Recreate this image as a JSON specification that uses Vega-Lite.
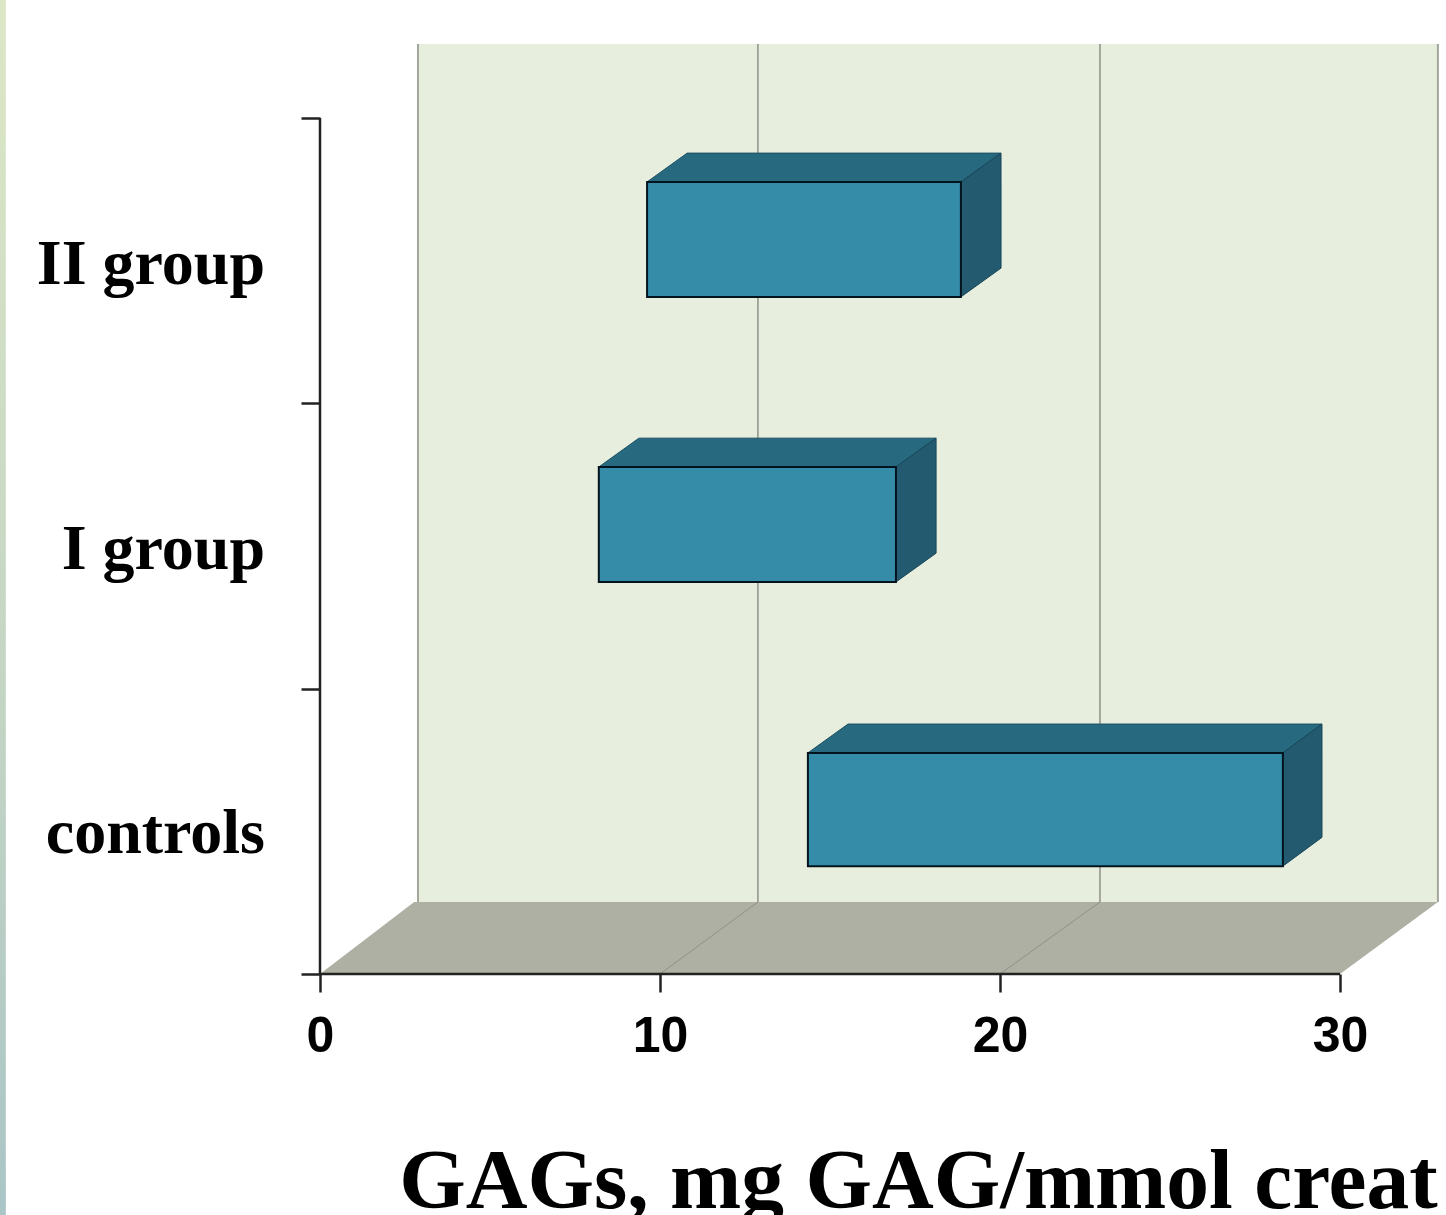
{
"$schema":"https://vega.github.io/schema/vega-lite/v6.json",
"width":1446,"height":1215,"padding":0,"autosize":{"type":"none"},"background":"#ffffff",
"config":{"view":{"stroke":null}},
"datasets":{
"bars":[
{"group":"II group","start":9.62,"end":18.85,"low":2.373,"high":2.776,"labelY":2.418},
{"group":"I group","start":8.2,"end":16.94,"low":1.374,"high":1.777,"labelY":1.419},
{"group":"controls","start":14.35,"end":28.32,"low":0.378,"high":0.775,"labelY":0.424}],
"tops":[
{"k":"II","x":9.62,"y":2.776,"y2":2.776},{"k":"II","x":10.8,"y":2.776,"y2":2.877},{"k":"II","x":18.85,"y":2.776,"y2":2.877},{"k":"II","x":20.03,"y":2.877,"y2":2.877},
{"k":"I","x":8.2,"y":1.777,"y2":1.777},{"k":"I","x":9.38,"y":1.777,"y2":1.878},{"k":"I","x":16.94,"y":1.777,"y2":1.878},{"k":"I","x":18.12,"y":1.878,"y2":1.878},
{"k":"c","x":14.35,"y":0.775,"y2":0.775},{"k":"c","x":15.53,"y":0.775,"y2":0.876},{"k":"c","x":28.32,"y":0.775,"y2":0.876},{"k":"c","x":29.47,"y":0.876,"y2":0.876}],
"sides":[
{"k":"II","x":18.85,"y":2.373,"y2":2.776},{"k":"II","x":20.03,"y":2.474,"y2":2.877},
{"k":"I","x":16.94,"y":1.374,"y2":1.777},{"k":"I","x":18.12,"y":1.475,"y2":1.878},
{"k":"c","x":28.32,"y":0.378,"y2":0.775},{"k":"c","x":29.47,"y":0.479,"y2":0.876}],
"floor":[
{"x":0,"y":0,"y2":0},{"x":2.77,"y":0,"y2":0.2523},{"x":30,"y":0,"y2":0.2523},{"x":32.88,"y":0.2523,"y2":0.2523}],
"grid":[{"x":12.88},{"x":22.94}],
"floorGrid":[{"k":"a","x":10,"y":0},{"k":"a","x":12.88,"y":0.2523},{"k":"b","x":20,"y":0},{"k":"b","x":22.94,"y":0.2523}],
"edges":[{"x":2.882},{"x":32.88}],
"axisH":[{"x":0,"x2":30,"y":0}],
"axisV":[{"x":0,"y":0,"y2":3}],
"strip":[{"x":-9.42,"x2":-9.24,"y":-0.85,"y2":3.42}],
"wall":[{"x":2.882,"x2":32.88,"y":0.2523,"y2":3.2594}]
},
"encoding":{},
"layer":[
{"data":{"name":"strip"},
 "mark":{"type":"rect","fill":{"gradient":"linear","x1":0,"y1":0,"x2":0,"y2":1,"stops":[{"offset":0,"color":"#dde7c6"},{"offset":0.6,"color":"#c2d4c4"},{"offset":1,"color":"#aac5c6"}]}},
 "encoding":{
  "x":{"field":"x","type":"quantitative","scale":{"domain":[-9.4118,33.1176],"nice":false,"zero":false},
   "axis":{"values":[0,10,20,30],"offset":-241,"domain":false,"grid":false,"ticks":true,"tickSize":18,"tickWidth":2.5,"tickColor":"#222222","format":"d","labelFont":"Liberation Sans","labelFontWeight":"bold","labelFontSize":50,"labelColor":"#000000","labelPadding":19,"labelFlush":false,"labelOverlap":false,"zindex":1,
    "title":"GAGs, mg GAG/mmol creat","titleFont":"Liberation Serif","titleFontWeight":"bold","titleFontSize":85.5,"titleColor":"#000000","titleX":918,"titleY":233,"titleAlign":"center","titleBaseline":"alphabetic"}},
  "x2":{"field":"x2"},
  "y":{"field":"y","type":"quantitative","scale":{"domain":[-0.8446,3.4136],"nice":false,"zero":false},
   "axis":{"values":[0,1,2,3],"offset":-320,"domain":false,"grid":false,"tickSize":19,"tickWidth":2.5,"tickColor":"#222222","labels":false,"title":null,"zindex":1}},
  "y2":{"field":"y2"}}},
{"data":{"name":"wall"},"mark":{"type":"rect","fill":"#e8eedd"},
 "encoding":{"x":{"field":"x","type":"quantitative"},"x2":{"field":"x2"},"y":{"field":"y","type":"quantitative"},"y2":{"field":"y2"}}},
{"data":{"name":"edges"},"mark":{"type":"rule","stroke":"#a3a69b","strokeWidth":2},
 "encoding":{"x":{"field":"x","type":"quantitative"},"y":{"datum":0.2523},"y2":{"datum":3.2594}}},
{"data":{"name":"grid"},"mark":{"type":"rule","stroke":"#8f9188","strokeWidth":1.5},
 "encoding":{"x":{"field":"x","type":"quantitative"},"y":{"datum":0.2523},"y2":{"datum":3.2594}}},
{"data":{"name":"floor"},"mark":{"type":"area","fill":"#aeb0a3"},
 "encoding":{"x":{"field":"x","type":"quantitative"},"y":{"field":"y","type":"quantitative"},"y2":{"field":"y2"}}},
{"data":{"name":"floorGrid"},
 "mark":{"type":"line","stroke":"#8f9188","strokeWidth":1},
 "encoding":{"x":{"field":"x","type":"quantitative"},"y":{"field":"y","type":"quantitative"},"detail":{"field":"k"}}},
{"data":{"name":"axisH"},"mark":{"type":"rule","stroke":"#222222","strokeWidth":2.5},
 "encoding":{"x":{"field":"x","type":"quantitative"},"x2":{"field":"x2"},"y":{"field":"y","type":"quantitative"}}},
{"data":{"name":"axisV"},"mark":{"type":"rule","stroke":"#222222","strokeWidth":2.5},
 "encoding":{"x":{"field":"x","type":"quantitative"},"y":{"field":"y","type":"quantitative"},"y2":{"field":"y2"}}},
{"data":{"name":"tops"},"mark":{"type":"area","fill":"#276a80","stroke":"#1b4f62","strokeWidth":1},
 "encoding":{"x":{"field":"x","type":"quantitative"},"y":{"field":"y","type":"quantitative"},"y2":{"field":"y2"},"detail":{"field":"k"}}},
{"data":{"name":"sides"},"mark":{"type":"area","fill":"#235a70","stroke":"#174658","strokeWidth":1},
 "encoding":{"x":{"field":"x","type":"quantitative"},"y":{"field":"y","type":"quantitative"},"y2":{"field":"y2"},"detail":{"field":"k"}}},
{"data":{"name":"bars"},"mark":{"type":"rect","fill":"#358ca9","stroke":"#04141f","strokeWidth":2},
 "encoding":{"x":{"field":"start","type":"quantitative"},"x2":{"field":"end"},"y":{"field":"low","type":"quantitative"},"y2":{"field":"high"}}},
{"data":{"name":"bars"},"mark":{"type":"text","align":"right","baseline":"alphabetic","font":"Liberation Serif","fontWeight":"bold","fontSize":64,"color":"#000000"},
 "encoding":{"x":{"datum":-1.618},"y":{"field":"labelY","type":"quantitative"},"text":{"field":"group"}}}
]
}
